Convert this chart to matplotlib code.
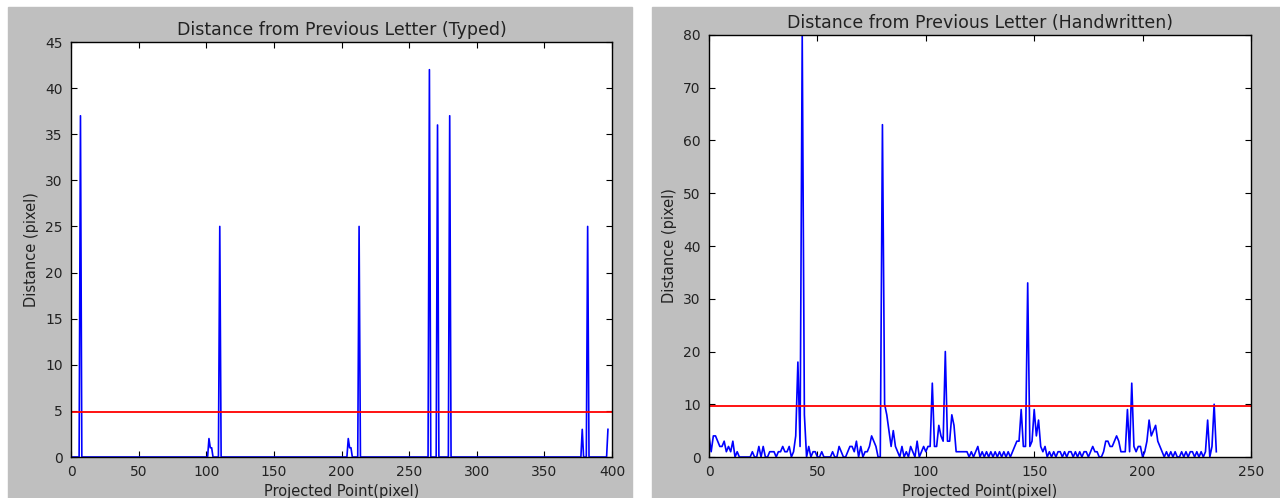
import matplotlib
matplotlib.use("Agg")
import matplotlib.pyplot as plt
import numpy as np
from matplotlib.patches import Rectangle

# typed text: zero everywhere except these points
typed_len = 398
typed_spike_x = [7, 102, 103, 104, 110, 205, 206, 207, 213, 265, 271, 280, 378, 382, 397]
typed_spike_y = [37, 2, 1, 1, 25, 2, 1, 1, 25, 42, 36, 37, 3, 25, 3]
typed_threshold = 4.85

# handwritten text, one value per projected point (0..234)
hand_y = [
    4, 1, 4, 4, 3, 2, 2, 3, 1, 2,        # 0-9
    1, 3, 0, 1, 0, 0, 0, 0, 0, 0,        # 10-19
    1, 0, 0, 2, 0, 2, 0, 0, 1, 1,        # 20-29
    1, 0, 1, 1, 2, 1, 1, 2, 0, 1,        # 30-39
    4, 18, 2, 80, 8, 0, 2, 0, 1, 1,      # 40-49
    0, 0, 1, 0, 0, 0, 0, 1, 0, 0,        # 50-59
    2, 1, 0, 0, 1, 2, 2, 1, 3, 0,        # 60-69
    2, 0, 1, 1, 2, 4, 3, 2, 0, 0,        # 70-79
    63, 10, 8, 5, 2, 5, 2, 1, 0, 2,      # 80-89
    0, 1, 0, 2, 1, 0, 3, 0, 1, 2,        # 90-99
    1, 2, 2, 14, 2, 2, 6, 4, 3, 20,      # 100-109
    3, 3, 8, 6, 1, 1, 1, 1, 1, 1,        # 110-119
    0, 1, 0, 1, 2, 0, 1, 0, 1, 0,        # 120-129
    1, 0, 1, 0, 1, 0, 1, 0, 1, 0,        # 130-139
    1, 2, 3, 3, 9, 2, 2, 33, 2, 3,       # 140-149
    9, 4, 7, 2, 1, 2, 0, 1, 0, 1,        # 150-159
    0, 1, 1, 0, 1, 0, 1, 1, 0, 1,        # 160-169
    0, 1, 0, 1, 1, 0, 1, 2, 1, 1,        # 170-179
    0, 0, 1, 3, 3, 2, 2, 3, 4, 3,        # 180-189
    1, 1, 1, 9, 1, 14, 2, 1, 2, 2,       # 190-199
    0, 1, 3, 7, 4, 5, 6, 3, 2, 1,        # 200-209
    0, 1, 0, 1, 0, 1, 0, 0, 1, 0,        # 210-219
    1, 0, 1, 1, 0, 1, 0, 1, 0, 1,        # 220-229
    7, 0, 2, 10, 1,                      # 230-234
]
hand_threshold = 9.7

typed_y = np.zeros(typed_len)
typed_y[typed_spike_x] = typed_spike_y
typed_x = np.arange(typed_len)
hand_x = np.arange(len(hand_y))

W, H = 1280, 498
fig = plt.figure(figsize=(W / 100, H / 100), dpi=100, facecolor="white")

# grey backgrounds of the two original screenshots
fig.patches.append(Rectangle((8 / W, 0), (632 - 8) / W, 1 - 7 / H,
                             transform=fig.transFigure, color="#bfbfbf", zorder=-10))
fig.patches.append(Rectangle((652 / W, 0), (W - 652) / W, 1 - 7 / H,
                             transform=fig.transFigure, color="#bfbfbf", zorder=-10))

TXT = "#222222"


def setup(ax, title):
    ax.set_facecolor("white")
    ax.set_title(title, fontsize=12.5, pad=5, color=TXT)
    ax.set_xlabel("Projected Point(pixel)", fontsize=10.5, labelpad=3, color=TXT)
    ax.set_ylabel("Distance (pixel)", fontsize=10.5, labelpad=4, color=TXT)
    ax.tick_params(direction="in", top=True, right=True, length=4, labelsize=10,
                   pad=6, labelcolor=TXT)
    for s in ax.spines.values():
        s.set_linewidth(1.0)


ax1 = fig.add_axes([71 / W, 1 - 457 / H, (612 - 71) / W, (457 - 42) / H])
ax1.plot(typed_x, typed_y, color="b", lw=1.2)
ax1.axhline(typed_threshold, color="r", lw=1.3)
ax1.set_xlim(0, 400)
ax1.set_ylim(0, 45)
ax1.set_xticks(range(0, 401, 50))
ax1.set_yticks(range(0, 46, 5))
setup(ax1, "Distance from Previous Letter (Typed)")

ax2 = fig.add_axes([709 / W, 1 - 457 / H, (1251 - 709) / W, (457 - 35) / H])
ax2.plot(hand_x, hand_y, color="b", lw=1.2)
ax2.axhline(hand_threshold, color="r", lw=1.3)
ax2.set_xlim(0, 250)
ax2.set_ylim(0, 80)
ax2.set_xticks(range(0, 251, 50))
ax2.set_yticks(range(0, 81, 10))
setup(ax2, "Distance from Previous Letter (Handwritten)")

fig.savefig("out.png", dpi=100, facecolor=fig.get_facecolor())
plt.close(fig)
